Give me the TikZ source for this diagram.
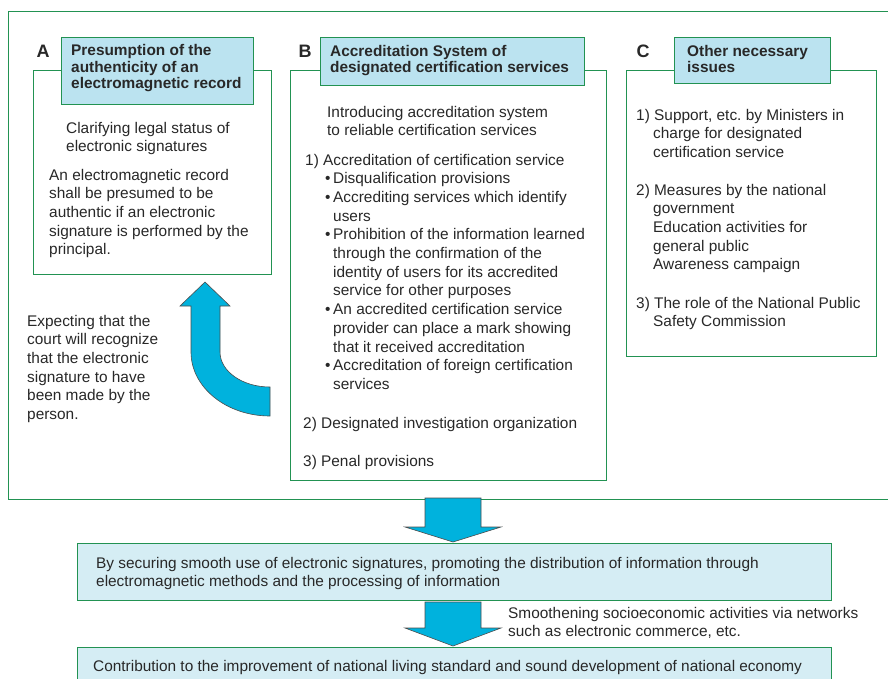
\documentclass[tikz,border=0pt]{standalone}
\usepackage{fontspec}
\setmainfont{Liberation Sans}
\frenchspacing
\definecolor{frame}{RGB}{34,146,82}
\definecolor{hdrfill}{RGB}{187,227,240}
\definecolor{resfill}{RGB}{213,237,244}
\definecolor{flow}{RGB}{0,178,221}
\definecolor{ink}{RGB}{40,40,40}
% a top-aligned block of lines, baseline = first line
\newcommand{\blocktext}[1]{\parbox[t]{820pt}{#1}}
% bullet paragraph indented under a numbered item
\newcommand{\bulletpar}[1]{\par{\leftskip=20pt\hangindent=8pt\hangafter=1\noindent\makebox[8pt][l]{•}#1\par}}
\tikzset{
  frame box/.style={draw=frame, line width=1.1pt, fill=white, inner sep=0pt, anchor=north west},
  head box/.style={frame box, fill=hdrfill},
  result box/.style={frame box, fill=resfill},
  body/.style={inner sep=0pt, anchor=base west, text=ink, font=\fontsize{15.4}{18.7}\selectfont},
  head/.style={inner sep=0pt, anchor=base west, text=ink, font=\bfseries\fontsize{15.4}{16.5}\selectfont},
  letter/.style={inner sep=0pt, anchor=base, text=ink, font=\bfseries\fontsize{18}{18}\selectfont},
  block arrow/.style={fill=flow, draw=black!70, line width=0.6pt, line join=miter}
}
\begin{document}
\begin{tikzpicture}[x=1pt, y=-1pt]
\useasboundingbox (0,0) rectangle (888,678);

% enclosing frame for the three sections
\node[frame box, minimum width=884pt, minimum height=488.5pt] (outer) at (7.5,10.5) {};

% section frames
\node[frame box, minimum width=238pt, minimum height=204pt] (boxA) at (33,70) {};
\node[frame box, minimum width=316pt, minimum height=410pt] (boxB) at (290,70) {};
\node[frame box, minimum width=250pt, minimum height=286pt] (boxC) at (626,70) {};

% title tabs
\node[head box, minimum width=192pt, minimum height=67pt] (tabA) at (61,37) {};
\node[head box, minimum width=264pt, minimum height=48pt] (tabB) at (320,37) {};
\node[head box, minimum width=156pt, minimum height=46pt] (tabC) at (674,37) {};

\node[letter] (letA) at (43,57) {A};
\node[letter] (letB) at (305,57) {B};
\node[letter] (letC) at (643,57) {C};

\node[head] (titleA) at (71,55.5) {\blocktext{Presumption of the\\authenticity of an\\electromagnetic record}};
\node[head] (titleB) at (330,56) {\blocktext{Accreditation System of\\designated certification services}};
\node[head] (titleC) at (687,56) {\blocktext{Other necessary\\issues}};

% section A
\node[body] (aimA) at (66,133) {\blocktext{Clarifying legal status of\\electronic signatures}};
\node[body] (ruleA) at (49,180) {\blocktext{An electromagnetic record\\shall be presumed to be\\authentic if an electronic\\signature is performed by the\\principal.}};

% effect of section A
\node[body] (expect) at (27,326) {\blocktext{Expecting that the\\court will recognize\\that the electronic\\signature to have\\been made by the\\person.}};
\draw[block arrow] (205,282) -- (230,306) -- (220,306) -- (220,352)
  arc[start angle=180, end angle=90, x radius=50, y radius=35] -- (270,416)
  arc[start angle=90, end angle=180, x radius=79, y radius=64] -- (191,306) -- (180,306) -- cycle;

% section B
\node[body] (aimB) at (327,117) {\blocktext{Introducing accreditation system\\to reliable certification services}};
\node[body] (listB) at (305,165) {\blocktext{1) Accreditation of certification service
  \bulletpar{Disqualification provisions}
  \bulletpar{Accrediting services which identify\newline users}
  \bulletpar{Prohibition of the information learned\newline through the confirmation of the\newline identity of users for its accredited\newline service for other purposes}
  \bulletpar{An accredited certification service\newline provider can place a mark showing\newline that it received accreditation}
  \bulletpar{Accreditation of foreign certification\newline services}}};
\node[body] (itemB2) at (303,428) {2) Designated investigation organization};
\node[body] (itemB3) at (303,466) {3) Penal provisions};

% section C
\node[body] (itemC1) at (636,120) {\blocktext{\hangindent=17pt\hangafter=1 1) Support, etc. by Ministers in\\charge for designated\\certification service}};
\node[body] (itemC2) at (636,195) {\blocktext{\hangindent=17pt\hangafter=1 2) Measures by the national\\government\\Education activities for\\general public\\Awareness campaign}};
\node[body] (itemC3) at (636,308) {\blocktext{\hangindent=17pt\hangafter=1 3) The role of the National Public\\Safety Commission}};

% outcomes
\node[result box, minimum width=754pt, minimum height=57pt] (goal) at (77,543) {};
\node[result box, minimum width=754pt, minimum height=45pt] (aim) at (77,647) {};
\node[body] (goaltext) at (96,568) {\blocktext{By securing smooth use of electronic signatures, promoting the distribution of information through\\electromagnetic methods and the processing of information}};
\node[body] (aimtext) at (93,671) {Contribution to the improvement of national living standard and sound development of national economy};
\node[body] (smooth) at (508,618) {\blocktext{Smoothening socioeconomic activities via networks\\such as electronic commerce, etc.}};

\draw[block arrow] (425,498) -- (425,527) -- (405,527) -- (453,542) -- (501,527) -- (481,527) -- (481,498) -- cycle;
\draw[block arrow] (425,602) -- (425,628) -- (405,628) -- (453,646) -- (501,628) -- (481,628) -- (481,602) -- cycle;
\end{tikzpicture}
\end{document}
